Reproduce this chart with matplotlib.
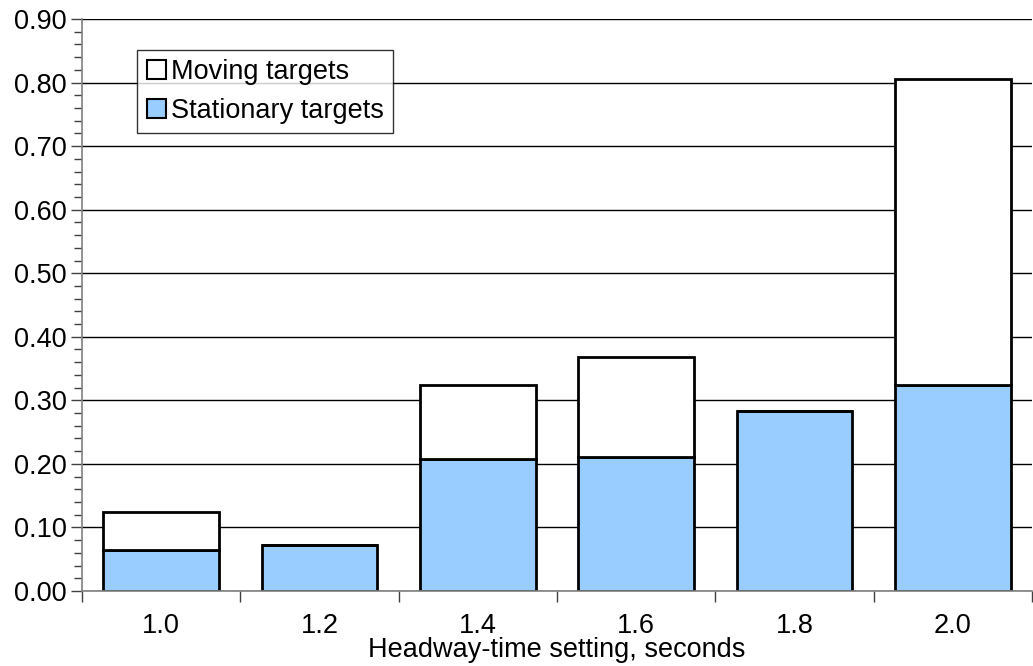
import matplotlib.pyplot as plt
from matplotlib.patches import Patch
from matplotlib.ticker import MultipleLocator, FixedLocator, NullFormatter

plt.rcParams['font.family'] = ['Liberation Sans', 'DejaVu Sans']

# data
settings = ['1.0', '1.2', '1.4', '1.6', '1.8', '2.0']
stationary = [0.064, 0.072, 0.208, 0.211, 0.283, 0.324]
total = [0.124, 0.072, 0.324, 0.368, 0.283, 0.805]
moving = [t - s for t, s in zip(total, stationary)]

BLUE = '#99ccff'
FS = 19.5

fig = plt.figure(figsize=(10.33, 6.66), dpi=100)
ax = fig.add_axes([82 / 1033, 75 / 666, 950 / 1033, 572 / 666])

x = list(range(len(settings)))
ax.bar(x, stationary, width=0.73, color=BLUE, edgecolor='black', linewidth=2, zorder=3)
ax.bar(x, moving, width=0.73, bottom=stationary, color='white', edgecolor='black',
       linewidth=2, zorder=3)

ax.set_ylim(0, 0.9)
ax.set_xlim(-0.5, len(settings) - 0.5)

ax.set_yticks([i / 10 for i in range(10)])
ax.set_yticklabels([f'{i / 10:.2f}' for i in range(10)], fontsize=FS)
ax.yaxis.set_minor_locator(MultipleLocator(0.02))
ax.tick_params(axis='y', which='major', length=8, width=1, color='#404040', pad=3)
ax.tick_params(axis='y', which='minor', length=6, width=1, color='#404040')

# category boundaries get the ticks, labels sit at the centres
ax.xaxis.set_major_locator(FixedLocator([i + 0.5 for i in range(-1, len(settings))]))
ax.xaxis.set_major_formatter(NullFormatter())
ax.xaxis.set_minor_locator(FixedLocator(x))
ax.set_xticklabels(settings, minor=True, fontsize=FS)
ax.tick_params(axis='x', which='major', length=8, width=1, color='#404040')
ax.tick_params(axis='x', which='minor', length=0, pad=16)

# x label placed in figure coords so it sits right at the bottom edge
fig.text((82 + 950 / 2) / 1033, 9 / 666, 'Headway-time setting, seconds',
         fontsize=FS, ha='center', va='baseline')

ax.grid(axis='y', which='major', color='black', linewidth=1, zorder=0)
ax.set_axisbelow(True)

for side in ['top', 'right']:
    ax.spines[side].set_visible(False)
for side in ['left', 'bottom']:
    ax.spines[side].set_color('#808080')
    ax.spines[side].set_linewidth(1.2)
    ax.spines[side].set_zorder(4)

handles = [Patch(facecolor='white', edgecolor='black', linewidth=1.5),
           Patch(facecolor=BLUE, edgecolor='black', linewidth=1.5)]
leg = ax.legend(handles, ['Moving targets', 'Stationary targets'], loc='upper left',
                bbox_to_anchor=(0.058, 0.946), fontsize=FS, frameon=True, fancybox=False,
                handlelength=0.7, handleheight=0.7, handletextpad=0.2,
                borderpad=0.35, labelspacing=0.45, borderaxespad=0)
leg.get_frame().set_edgecolor('black')
leg.get_frame().set_linewidth(1)
leg.set_zorder(5)

fig.savefig('out.png', dpi=100)
